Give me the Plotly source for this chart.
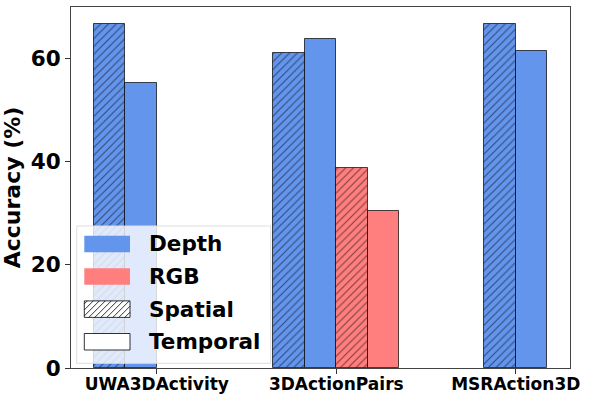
import plotly.graph_objects as go

# values (accuracy, %)
categories = ["UWA3DActivity", "3DActionPairs", "MSRAction3D"]
depth_spatial = [66.7, 61.1, 66.7]
depth_temporal = [55.3, 63.8, 61.4]
rgb_spatial = [None, 38.8, None]
rgb_temporal = [None, 30.5, None]
rgb_available = [True, True, False]
y_ticks = [0, 20, 40, 60]

legend_labels = ["Depth", "RGB", "Spatial", "Temporal"]

DEPTH_COLOR = "#6495ED"
RGB_COLOR = "#FF7F7F"
EDGE_COLOR = "rgba(0,0,0,0.7)"
FONT = "DejaVu Sans"
BAR_W = 0.176

# plot area in pixels (598x399 canvas)
W, H = 598, 399
L, R, T, B = 71, 570, 7, 368


def to_px_paper(x, y):
    return (x - L) / (R - L), (B - y) / (B - T)


def bar_positions(series_slot):
    """x centre of each bar; slot is 0..3 in a full group, 0..1 when depth only."""
    xs = []
    for i, full in enumerate(rgb_available):
        offsets = [-1.5, -0.5, 0.5, 1.5] if full else [-0.5, 0.5, None, None]
        off = offsets[series_slot]
        xs.append(i + off * BAR_W if off is not None else None)
    return xs


HATCH = {"shape": "/", "fgcolor": "black", "size": 5.5, "solidity": 0.2}

series = [
    (depth_spatial, DEPTH_COLOR, True),
    (depth_temporal, DEPTH_COLOR, False),
    (rgb_spatial, RGB_COLOR, True),
    (rgb_temporal, RGB_COLOR, False),
]

fig = go.Figure()
for slot, (vals, color, hatched) in enumerate(series):
    xs = bar_positions(slot)
    pts = [(x, v) for x, v in zip(xs, vals) if x is not None and v is not None]
    marker = {"color": color, "line": {"color": EDGE_COLOR, "width": 1}}
    if hatched:
        marker["pattern"] = HATCH
    fig.add_trace(
        go.Bar(
            x=[p[0] for p in pts],
            y=[p[1] for p in pts],
            width=BAR_W,
            marker=marker,
            showlegend=False,
        )
    )

# matplotlib-like 5% margins around the bars
left_edge = 0 - 2 * BAR_W
right_edge = len(categories) - 1 + BAR_W
pad = (right_edge - left_edge) * 0.05

# hand-drawn legend box (matplotlib style, wide patches)
shapes = []
bx0, by0 = to_px_paper(76.7, 226)
bx1, by1 = to_px_paper(270.7, 363.3)
shapes.append(
    dict(
        type="rect", xref="paper", yref="paper", x0=bx0, y0=by1, x1=bx1, y1=by0,
        fillcolor="rgba(255,255,255,0.8)", line={"color": "#dddddd", "width": 1},
        layer="above",
    )
)


def hatch_path(x0, y0, x1, y1, step=6.0):
    parts = []
    k = x0 + y0 + step / 2
    while k < x1 + y1:
        xa = max(x0, k - y1)
        xb = min(x1, k - y0)
        if xa < xb:
            pa = to_px_paper(xa, k - xa)
            pb = to_px_paper(xb, k - xb)
            parts.append(f"M{pa[0]:.5f},{pa[1]:.5f}L{pb[0]:.5f},{pb[1]:.5f}")
        k += step
    return "".join(parts)


annotations = []
patch_fill = [DEPTH_COLOR, RGB_COLOR, "white", "white"]
for i, label in enumerate(legend_labels):
    top = 235.7 + i * 32.6
    bot = top + 16.5
    px0, py0 = to_px_paper(84.3, top)
    px1, py1 = to_px_paper(130, bot)
    edge = {"width": 0} if i < 2 else {"color": "rgba(0,0,0,0.8)", "width": 1}
    shapes.append(
        dict(
            type="rect", xref="paper", yref="paper", x0=px0, y0=py1, x1=px1, y1=py0,
            fillcolor=patch_fill[i], line=edge, layer="above",
        )
    )
    if label == "Spatial":
        shapes.append(
            dict(
                type="path", xref="paper", yref="paper",
                path=hatch_path(84.3, top, 130, bot),
                line={"color": "black", "width": 0.8}, layer="above",
            )
        )
    tx, ty = to_px_paper(147, (top + bot) / 2)
    annotations.append(
        dict(
            text=label, x=tx, y=ty, xref="paper", yref="paper",
            xanchor="left", yanchor="middle", showarrow=False,
            font={"family": FONT, "size": 21.5, "color": "black", "weight": "bold"},
        )
    )

fig.update_layout(
    width=W,
    height=H,
    margin={"l": L, "r": W - R, "t": T, "b": H - B, "autoexpand": False},
    plot_bgcolor="white",
    paper_bgcolor="white",
    bargap=0,
    shapes=shapes,
    annotations=annotations,
    font={"family": FONT, "color": "black"},
)
fig.update_xaxes(
    range=[left_edge - pad, right_edge + pad],
    tickvals=list(range(len(categories))),
    ticktext=categories,
    tickfont={"family": FONT, "size": 17, "weight": "bold"},
    ticks="outside", ticklen=5, tickcolor="#333", ticklabelstandoff=-4,
    showline=True, mirror=True, linecolor="#444", linewidth=1,
    showgrid=False, zeroline=False, automargin=False,
)
fig.update_yaxes(
    range=[0, 70],
    tickvals=y_ticks,
    tickfont={"family": FONT, "size": 21.5, "weight": "bold"},
    ticks="outside", ticklen=5, tickcolor="#333",
    showline=True, mirror=True, linecolor="#444", linewidth=1,
    showgrid=False, zeroline=False, automargin=False,
    title={"text": "Accuracy (%)", "font": {"family": FONT, "size": 22, "weight": "bold"},
           "standoff": 7},
)
# the page's default 8px body margin would shift the figure
fig.write_html(
    "out.html",
    config={"displayModeBar": False},
    post_script="document.body.style.margin='0';",
)
